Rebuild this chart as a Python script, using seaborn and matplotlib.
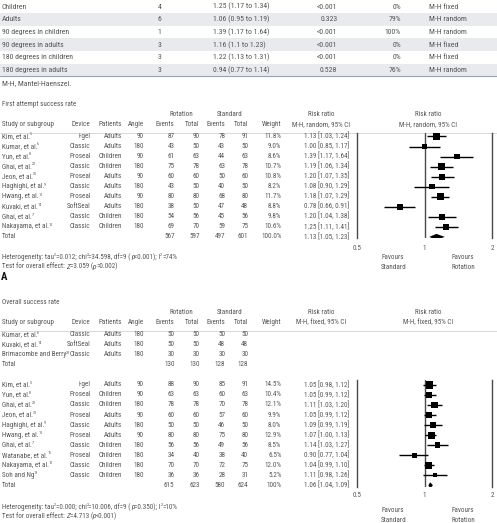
import matplotlib
matplotlib.use("Agg")
import numpy as np
import pandas as pd
import matplotlib.pyplot as plt
import seaborn as sns
from matplotlib import font_manager as fm
from matplotlib.patches import Polygon, Rectangle

# ---------------- data ----------------
sub_labels = ["Children", "Adults", "90 degrees in children", "90 degrees in adults",
              "180 degrees in children", "180 degrees in adults"]
sub_n = [4, 6, 1, 3, 3, 3]
sub_est = ["1.25 (1.17 to 1.34)", "1.06 (0.95 to 1.19)", "1.39 (1.17 to 1.64)",
           "1.16 (1.1 to 1.23)", "1.22 (1.13 to 1.31)", "0.94 (0.77 to 1.14)"]
sub_p = ["<0.001", "0.323", "<0.001", "<0.001", "<0.001", "0.528"]
sub_i2 = ["0%", "79%", "100%", "0%", "0%", "76%"]
sub_model = ["M-H fixed", "M-H random", "M-H random", "M-H fixed", "M-H fixed", "M-H random"]

a_study = ["Kim, et al.", "Kumar, et al.", "Yun, et al.", "Ghai, et al.", "Jeon, et al.",
           "Haghighi, et al.", "Hwang, et al.", "Kuvaki, et al.", "Ghai, et al.", "Nakayama, et al."]
a_ref = ["5", "6", "8", "20", "21", "9", "10", "14", "7", "12"]
a_device = ["i-gel", "Classic", "Proseal", "Classic", "Proseal", "Classic", "Proseal",
            "SoftSeal", "Classic", "Classic"]
a_patients = ["Adults", "Adults", "Children", "Children", "Adults", "Adults", "Adults",
              "Adults", "Children", "Children"]
a_angle = [90, 180, 90, 180, 90, 180, 90, 180, 180, 180]
a_rot_ev = [87, 43, 61, 75, 60, 43, 80, 38, 54, 69]
a_rot_tot = [90, 50, 63, 78, 60, 50, 80, 50, 56, 70]
a_std_ev = [78, 43, 44, 63, 50, 40, 68, 47, 45, 59]
a_std_tot = [91, 50, 63, 78, 60, 50, 80, 48, 56, 75]
a_weight = [11.8, 9.0, 8.6, 10.7, 10.8, 8.2, 11.7, 8.8, 9.8, 10.6]
a_rr = [1.13, 1.00, 1.39, 1.19, 1.20, 1.08, 1.18, 0.78, 1.20, 1.25]
a_lo = [1.03, 0.85, 1.17, 1.06, 1.07, 0.90, 1.07, 0.66, 1.04, 1.11]
a_hi = [1.24, 1.17, 1.64, 1.34, 1.35, 1.29, 1.29, 0.91, 1.38, 1.41]
a_total = [567, 597, 497, 601]
a_total_w = "100.0%"
a_total_rr = [1.13, 1.05, 1.23]

b0_study = ["Kumar, et al.", "Kuvaki, et al.", "Brimacombe and Berry"]
b0_ref = ["6", "14", "23"]
b0_device = ["Classic", "SoftSeal", "Classic"]
b0_patients = ["Adults", "Adults", "Adults"]
b0_angle = [180, 180, 180]
b0_rot_ev = [50, 50, 30]
b0_rot_tot = [50, 50, 30]
b0_std_ev = [50, 48, 30]
b0_std_tot = [50, 48, 30]
b0_total = [130, 130, 128, 128]

b_study = ["Kim, et al.", "Yun, et al.", "Ghai, et al.", "Jeon, et al.", "Haghighi, et al.",
           "Hwang, et al.", "Ghai, et al.", "Watanabe, et al.", "Nakayama, et al.", "Soh and Ng"]
b_ref = ["5", "8", "20", "21", "9", "10", "7", "16", "12", "13"]
b_device = ["i-gel", "Proseal", "Classic", "Proseal", "Classic", "Proseal", "Classic",
            "Proseal", "Classic", "Classic"]
b_patients = ["Adults", "Children", "Children", "Adults", "Adults", "Adults", "Children",
              "Children", "Children", "Children"]
b_angle = [90, 90, 180, 90, 180, 90, 180, 180, 180, 180]
b_rot_ev = [88, 63, 78, 60, 50, 80, 56, 34, 70, 36]
b_rot_tot = [90, 63, 78, 60, 50, 80, 56, 40, 70, 36]
b_std_ev = [85, 60, 70, 57, 46, 75, 49, 38, 72, 28]
b_std_tot = [91, 63, 78, 60, 50, 80, 56, 40, 75, 31]
b_weight = [14.5, 10.4, 12.1, 9.9, 8.0, 12.9, 8.5, 6.5, 12.0, 5.2]
b_rr = [1.05, 1.05, 1.11, 1.05, 1.09, 1.07, 1.14, 0.90, 1.04, 1.11]
b_lo = [0.98, 0.99, 1.03, 0.99, 0.99, 1.00, 1.03, 0.77, 0.99, 0.98]
b_hi = [1.12, 1.12, 1.20, 1.12, 1.19, 1.13, 1.27, 1.04, 1.10, 1.26]
b_total = [615, 623, 580, 624]
b_total_w = "100%"
b_total_rr = [1.06, 1.04, 1.09]

x_ticks = [0.5, 1, 2]
x_ticklabels = ["0.5", "1", "2"]

# ---------------- style ----------------
sns.set_theme(style="white")


def pick(names):
    for n in names:
        try:
            fm.findfont(fm.FontProperties(family=n), fallback_to_default=False)
            return n
        except Exception:
            continue
    return "DejaVu Sans"


FONT = pick(["Roboto Condensed", "Fira Sans Condensed", "Barlow Semi Condensed",
             "Archivo Narrow", "Liberation Sans Narrow", "Liberation Sans"])
plt.rcParams["font.family"] = [FONT, "DejaVu Sans"]
plt.rcParams["font.weight"] = "normal"

TXT = "#555555"
LINE = "#4a4a4a"

W, H = 497, 523
fig = plt.figure(figsize=(W / 100, H / 100), dpi=100)
bg = fig.add_axes([0, 0, 1, 1])
bg.set_xlim(0, W)
bg.set_ylim(H, 0)
bg.axis("off")
R = fig.canvas.get_renderer()


def measure(s, size, style="normal"):
    t = bg.text(0, 0, s, fontsize=size, style=style)
    w = t.get_window_extent(R).width
    t.remove()
    return w


# fit font sizes so that reference text widths are reproduced
FS = 6.0 * 51.5 / measure("Study or subgroup", 6.0)
FST = 6.0 * 68.0 / measure("90 degrees in children", 6.0)


def txt(x, y, s, ha="left", size=None, color=TXT, **kw):
    if size is None:
        size = FS
    return bg.text(x, y, s, ha=ha, va="center", fontsize=size, color=color, **kw)


def adv(s, size, style="normal"):
    return measure("|" + s + "|", size, style) - measure("||", size, style)


def rich(x, y, segs, size=None, color=TXT):
    if size is None:
        size = FS
    for s, kind in segs:
        if kind == "sup":
            sz = size * 0.58
            txt(x, y - 2.2, s, size=sz, color=color)
            x += adv(s, sz)
        elif kind == "it":
            txt(x, y, s, size=size, color=color, style="italic")
            x += adv(s, size, "italic")
        else:
            txt(x, y, s, size=size, color=color)
            x += adv(s, size)


# ---------------- top summary table ----------------
T0, TS = 6.6, 12.7
for i in range(len(sub_labels)):
    yc = T0 + TS * i
    if i % 2 == 1:
        bg.add_patch(Rectangle((0, yc - TS / 2), W, TS, color="#e9eaee", lw=0, zorder=0))
    txt(1.5, yc, sub_labels[i], size=FST)
    txt(159.5, yc, str(sub_n[i]), ha="center", size=FST)
    txt(213, yc, sub_est[i], size=FST)
    txt(337.5, yc, sub_p[i], ha="right", size=FST)
    txt(401, yc, sub_i2[i], ha="right", size=FST)
    txt(429.3, yc, sub_model[i], size=FST)
yline = T0 + TS * (len(sub_labels) - 0.5)
bg.plot([0, W], [yline, yline], color="#8fa3c4", lw=0.8)
txt(1.5, 83.5, "M-H, Mantel-Haenszel.", size=FST)

# ---------------- column geometry ----------------
C_DEV, C_PAT, C_ANG = 90.7, 121.7, 144
C_REV, C_RTOT, C_SEV, C_STOT = 174.5, 199.5, 225.3, 248.3
C_W, C_CI = 281.5, 349.5
X_LO, X_HI = 356.7, 492.3
STEP = 10.04


def header(ytitle, title, model):
    txt(1.5, ytitle, title)
    y1, y2 = ytitle + 9.8, ytitle + 20.0
    txt(181.7, y1, "Rotation", ha="center")
    txt(229.5, y1, "Standard", ha="center")
    txt(321, y1, "Risk ratio", ha="center")
    txt(428, y1, "Risk ratio", ha="center")
    txt(1.5, y2, "Study or subgroup")
    for xr, s in [(C_DEV, "Device"), (C_PAT, "Patients"), (C_ANG, "Angle"), (C_REV, "Events"),
                  (C_RTOT, "Total"), (C_SEV, "Events"), (C_STOT, "Total"), (C_W, "Weight")]:
        txt(xr, y2, s, ha="right")
    txt(321, y2, "M-H, %s, 95%% CI" % model, ha="center")
    txt(428, y2, "M-H, %s, 95%% CI" % model, ha="center")
    bg.plot([0, W], [y2 + 8.2, y2 + 8.2], color="#c9c9c9", lw=0.5)


def study_row(y, name, ref, dev, pat, ang, rev, rtot, sev, stot, w=None, ci=None):
    rich(1.5, y, [(name, "n"), (ref, "sup")])
    txt(C_DEV, y, dev, ha="right")
    txt(C_PAT, y, pat, ha="right")
    txt(C_ANG, y, str(ang), ha="right")
    txt(C_REV, y, str(rev), ha="right")
    txt(C_RTOT, y, str(rtot), ha="right")
    txt(C_SEV, y, str(sev), ha="right")
    txt(C_STOT, y, str(stot), ha="right")
    if w is not None:
        txt(C_W, y, w, ha="right")
        txt(C_CI, y, ci, ha="right")


def total_row(y, tot, w=None, ci=None):
    txt(1.5, y, "Total")
    for xr, v in zip([C_REV, C_RTOT, C_SEV, C_STOT], tot):
        txt(xr, y, str(v), ha="right")
    if w is not None:
        txt(C_W, y, w, ha="right")
        txt(C_CI, y, ci, ha="right")


def forest(rows, rr, lo, hi, wts, tot_row, tot_rr, top_px, bot_px, row0_px, pad):
    left = X_LO / W
    width = (X_HI - X_LO) / W
    ax = fig.add_axes([left, 1 - bot_px / H, width, (bot_px - top_px) / H])
    ax.set_xscale("log")
    ax.set_facecolor("none")
    df = pd.DataFrame({"rr": rr, "row": rows, "w": wts})
    ax.hlines(df["row"], lo, hi, color="black", lw=1.0, zorder=2)
    wmax = 15.0
    sns.scatterplot(data=df, x="rr", y="row", size="w", sizes=(0, 1.9 * wmax),
                    size_norm=(0, wmax), marker="s", color="black", linewidth=0,
                    legend=False, ax=ax, zorder=3)
    est, l, h = tot_rr
    hh = 0.3
    ax.add_patch(Polygon([[l, tot_row], [est, tot_row - hh], [h, tot_row], [est, tot_row + hh]],
                         closed=True, color="black", lw=0, zorder=3))
    ax.axvline(1, color=LINE, lw=1.0, zorder=1)
    ax.set_xlim(0.5, 2)
    y_top = (top_px - row0_px) / STEP
    y_bot = (bot_px - row0_px) / STEP
    ax.set_ylim(y_bot, y_top)
    for s in ["top", "bottom"]:
        ax.spines[s].set_visible(False)
    for s in ["left", "right"]:
        ax.spines[s].set_visible(True)
        ax.spines[s].set_color(LINE)
        ax.spines[s].set_linewidth(1.0)
    ax.set_xticks(x_ticks)
    ax.set_xticklabels(x_ticklabels)
    ax.minorticks_off()
    ax.set_yticks([])
    ax.set_xlabel("")
    ax.set_ylabel("")
    ax.tick_params(axis="x", length=0, pad=pad, labelsize=FS, labelcolor=TXT)
    return ax


# ---------------- panel A ----------------
A_TITLE = 104.7
A0 = 136.5
header(A_TITLE, "First attempt success rate", "random")
for i in range(len(a_study)):
    y = A0 + STEP * i
    study_row(y, a_study[i], a_ref[i], a_device[i], a_patients[i], a_angle[i],
              a_rot_ev[i], a_rot_tot[i], a_std_ev[i], a_std_tot[i],
              "%.1f%%" % a_weight[i], "%.2f [%.2f, %.2f]" % (a_rr[i], a_lo[i], a_hi[i]))
nA = len(a_study)
total_row(A0 + STEP * nA, a_total, a_total_w, "%.2f [%.2f, %.2f]" % tuple(a_total_rr))
forest(list(range(nA)), a_rr, a_lo, a_hi, a_weight, nA, a_total_rr,
       132.7, 238.0, A0, 5.0)
rich(1.5, 257.3, [("Heterogeneity: tau", "n"), ("2", "sup"), ("=0.012; chi", "n"), ("2", "sup"),
                  ("=34.598, df=9 (", "n"), ("p", "it"), ("<0.001); I", "n"), ("2", "sup"),
                  ("=74%", "n")])
rich(1.5, 266.7, [("Test for overall effect: ", "n"), ("Z", "it"), ("=3.059 (", "n"),
                  ("p", "it"), ("=0.002)", "n")])
txt(1.0, 276.7, "A", size=FS * 1.5, color="#111111", fontweight="bold")
txt(381, 257.3, "Favours")
txt(381, 267.3, "Standard")
txt(451, 257.3, "Favours")
txt(451, 267.3, "Rotation")

# ---------------- panel B ----------------
B_TITLE = 303.0
B0 = 334.7
header(B_TITLE, "Overall success rate", "fixed")
for i in range(len(b0_study)):
    y = B0 + STEP * i
    study_row(y, b0_study[i], b0_ref[i], b0_device[i], b0_patients[i], b0_angle[i],
              b0_rot_ev[i], b0_rot_tot[i], b0_std_ev[i], b0_std_tot[i])
total_row(B0 + STEP * len(b0_study), b0_total)
off = len(b0_study) + 2
for i in range(len(b_study)):
    y = B0 + STEP * (off + i)
    study_row(y, b_study[i], b_ref[i], b_device[i], b_patients[i], b_angle[i],
              b_rot_ev[i], b_rot_tot[i], b_std_ev[i], b_std_tot[i],
              "%.1f%%" % b_weight[i], "%.2f [%.2f, %.2f]" % (b_rr[i], b_lo[i], b_hi[i]))
nB = off + len(b_study)
total_row(B0 + STEP * nB, b_total, b_total_w, "%.2f [%.2f, %.2f]" % tuple(b_total_rr))
forest(list(range(off, nB)), b_rr, b_lo, b_hi, b_weight, nB, b_total_rr,
       380.0, 486.7, B0, 4.0)
rich(1.5, 507.3, [("Heterogeneity: tau", "n"), ("2", "sup"), ("=0.000; chi", "n"), ("2", "sup"),
                  ("=10.006, df=9 (", "n"), ("p", "it"), ("=0.350); I", "n"), ("2", "sup"),
                  ("=10%", "n")])
rich(1.5, 516.3, [("Test for overall effect: ", "n"), ("Z", "it"), ("=4.713 (", "n"),
                  ("p", "it"), ("<0.001)", "n")])
txt(381, 510.0, "Favours")
txt(381, 520.3, "Standard")
txt(451, 510.0, "Favours")
txt(451, 520.3, "Rotation")

fig.savefig("out.png", dpi=100)
